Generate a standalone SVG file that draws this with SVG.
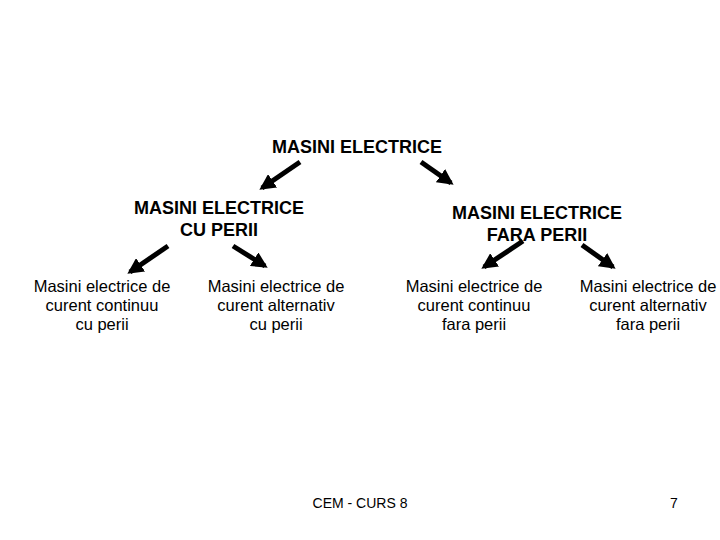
<svg xmlns="http://www.w3.org/2000/svg" width="720" height="540" viewBox="0 0 720 540">
<defs>
<marker id="ah" viewBox="0 0 10 10" refX="8" refY="5" markerWidth="3.2" markerHeight="3.2" orient="auto" markerUnits="strokeWidth">
<path d="M0,0 L10,5 L0,10 z" fill="#000"/>
</marker>
<style>
.h{font-family:"Liberation Sans",Arial,sans-serif;font-weight:bold;font-size:18px;fill:#000;text-anchor:middle}
.t{font-family:"Liberation Sans",Arial,sans-serif;font-size:16.5px;fill:#000;text-anchor:middle}
.f{font-family:"Liberation Sans",Arial,sans-serif;font-size:14px;fill:#000;text-anchor:middle}
.c{stroke:#000;stroke-width:5;fill:none;marker-end:url(#ah)}
</style>
</defs>
<rect width="720" height="540" fill="#fff"/>
<g id="root"><text class="h" x="357" y="153">MASINI ELECTRICE</text></g>
<g id="cu"><text class="h" x="219" y="214">MASINI ELECTRICE</text><text class="h" x="219" y="236">CU PERII</text></g>
<g id="fara"><text class="h" x="537" y="219">MASINI ELECTRICE</text><text class="h" x="537" y="241">FARA PERII</text></g>
<g id="n1"><text class="t" x="102" y="292">Masini electrice de</text><text class="t" x="102" y="311">curent continuu</text><text class="t" x="102" y="330">cu perii</text></g>
<g id="n2"><text class="t" x="276" y="292">Masini electrice de</text><text class="t" x="276" y="311">curent alternativ</text><text class="t" x="276" y="330">cu perii</text></g>
<g id="n3"><text class="t" x="474" y="292">Masini electrice de</text><text class="t" x="474" y="311">curent continuu</text><text class="t" x="474" y="330">fara perii</text></g>
<g id="n4"><text class="t" x="648" y="292">Masini electrice de</text><text class="t" x="648" y="311">curent alternativ</text><text class="t" x="648" y="330">fara perii</text></g>
<g id="connectors">
<line class="c" x1="300" y1="162" x2="262" y2="188"/>
<line class="c" x1="421" y1="162" x2="451" y2="183"/>
<line class="c" x1="168" y1="246" x2="130" y2="272"/>
<line class="c" x1="233" y1="246" x2="265" y2="266"/>
<line class="c" x1="523" y1="241" x2="484" y2="267"/>
<line class="c" x1="582" y1="245" x2="613" y2="267"/>
</g>
<g id="footer"><text class="f" x="360" y="508">CEM - CURS 8</text><text class="f" x="674" y="508">7</text></g>
</svg>
